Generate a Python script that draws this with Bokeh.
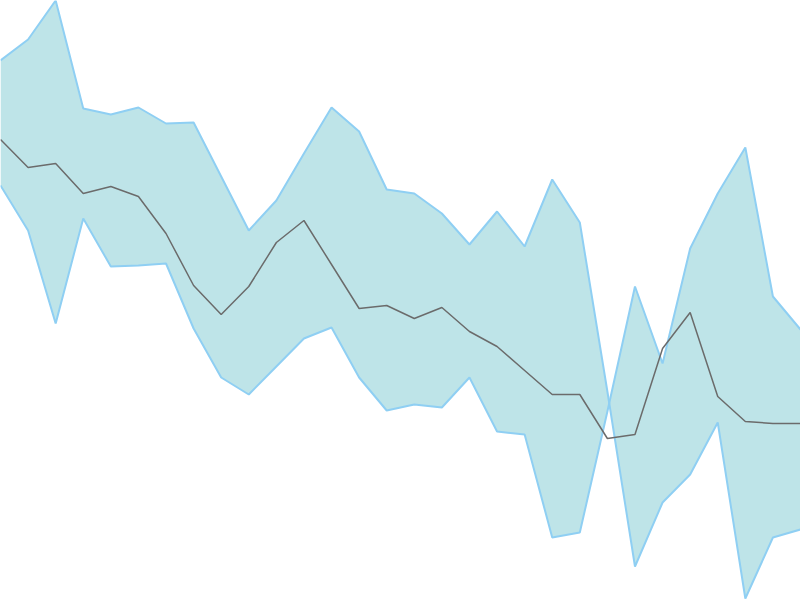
from bokeh.plotting import figure
from bokeh.models import Range1d, ColumnDataSource
from bokeh.embed import file_html
from bokeh.resources import INLINE

# index of each sample
idx = list(range(30))
# upper edge of band
upper = [540, 561, 600, 492, 486, 493, 477, 478, 424, 370, 400, 447, 493, 469, 411,
         407, 387, 356, 389, 354, 421, 378, 209, 34, 98, 126, 178, 2, 63, 71]
# lower edge of band
lower = [415, 370, 277, 382, 334, 335, 337, 272, 223, 206, 234, 262, 273, 223, 190,
         196, 193, 223, 169, 166, 63, 68, 189, 314, 237, 352, 407, 453, 304, 271]
# central line
mid = [461, 433, 437, 407, 414, 404, 367, 315, 286, 314, 358, 380, 336, 292, 295,
       282, 293, 269, 254, 230, 206, 206, 162, 166, 252, 288, 204, 179, 177, 177]

src = ColumnDataSource(dict(x=idx, upper=upper, lower=lower, mid=mid))

p = figure(width=800, height=600, x_range=Range1d(0, 29), y_range=Range1d(0, 600),
           output_backend="svg", toolbar_location=None, min_border=0)
p.axis.visible = False
p.grid.visible = False
p.outline_line_color = None
p.background_fill_color = "white"
p.border_fill_color = "white"

p.varea(x="x", y1="lower", y2="upper", source=src, fill_color="#bee4e8")
p.line(x="x", y="upper", source=src, line_color="#8fcff3", line_width=2)
p.line(x="x", y="lower", source=src, line_color="#8fcff3", line_width=2)
p.line(x="x", y="mid", source=src, line_color="#6b6b6b", line_width=1.5)

open("out.html", "w").write(file_html(p, INLINE))
